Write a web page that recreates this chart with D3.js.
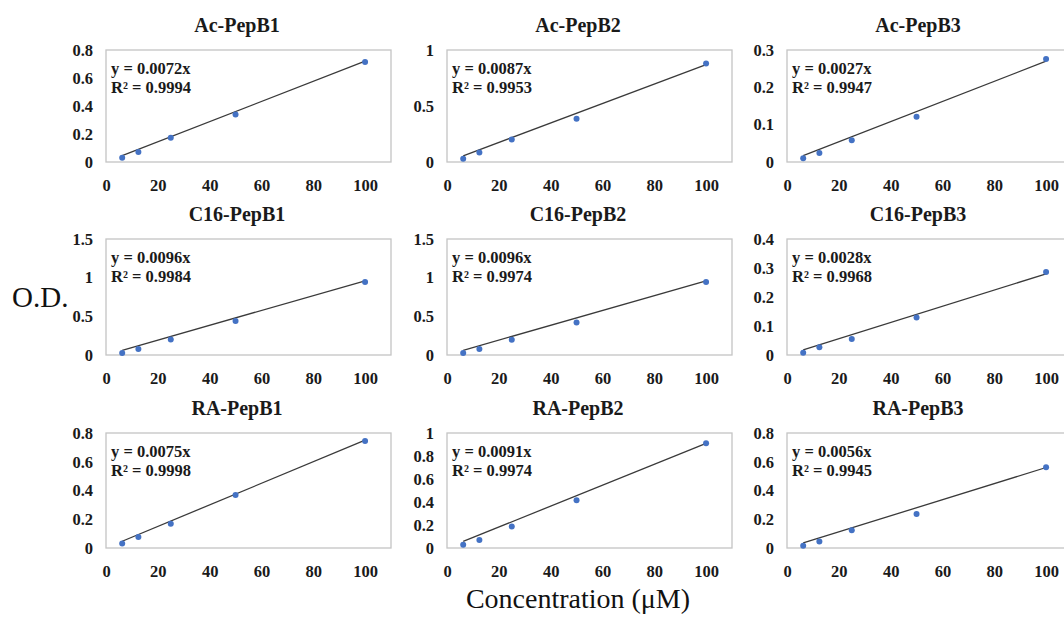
<!DOCTYPE html>
<html>
<head>
<meta charset="utf-8">
<script src="https://cdn.jsdelivr.net/npm/d3@7"></script>
<style>
  body { margin: 0; background: #fff; }
  svg { display: block; }
  .title { font-family: "Liberation Serif", serif; font-weight: bold; font-size: 20px; fill: #1a1a1a; }
  .eq { font-family: "Liberation Serif", serif; font-weight: bold; font-size: 16.5px; fill: #1a1a1a; }
  .label { font-family: "Liberation Serif", serif; fill: #111; }
</style>
</head>
<body>
<svg id="chart" width="1064" height="617"></svg>
<script>
// Concentrations (µM) on the x axis
const concentrations = [6.25, 12.5, 25, 50, 100];
const xTicks = [0, 20, 40, 60, 80, 100];

const panelNames = [
  'Ac-PepB1', 'Ac-PepB2', 'Ac-PepB3',
  'C16-PepB1', 'C16-PepB2', 'C16-PepB3',
  'RA-PepB1', 'RA-PepB2', 'RA-PepB3'
];

// O.D. readings per peptide
const acPepB1 = [0.031, 0.072, 0.174, 0.34, 0.715];
const acPepB2 = [0.03, 0.085, 0.2, 0.387, 0.88];
const acPepB3 = [0.01, 0.024, 0.058, 0.121, 0.276];
const c16PepB1 = [0.026, 0.078, 0.2, 0.44, 0.944];
const c16PepB2 = [0.026, 0.077, 0.197, 0.42, 0.944];
const c16PepB3 = [0.008, 0.027, 0.055, 0.129, 0.286];
const raPepB1 = [0.032, 0.077, 0.169, 0.369, 0.745];
const raPepB2 = [0.029, 0.07, 0.186, 0.416, 0.91];
const raPepB3 = [0.016, 0.046, 0.123, 0.237, 0.561];

// Trendline fits (through origin)
const slopes = [0.0072, 0.0087, 0.0027, 0.0096, 0.0096, 0.0028, 0.0075, 0.0091, 0.0056];
const rSquared = ['0.9994', '0.9953', '0.9947', '0.9984', '0.9974', '0.9968', '0.9998', '0.9974', '0.9945'];

// Y axis extents and tick steps
const yMaxes = [0.8, 1, 0.3, 1.5, 1.5, 0.4, 0.8, 1, 0.8];
const yTickSteps = [0.2, 0.5, 0.1, 0.5, 0.5, 0.1, 0.2, 0.2, 0.2];

const seriesValues = [acPepB1, acPepB2, acPepB3, c16PepB1, c16PepB2, c16PepB3, raPepB1, raPepB2, raPepB3];

const panels = panelNames.map((name, i) => ({
  name,
  values: seriesValues[i],
  slope: slopes[i],
  r2: rSquared[i],
  yMax: yMaxes[i],
  yStep: yTickSteps[i],
  col: i % 3,
  row: Math.floor(i / 3)
}));

// Layout
const colLeft = [106, 447, 787];
const rowTop = [50, 239, 433];
const rowBottom = [162, 355, 548];
const boxWidth = 285;
const xMax = 110;

const svg = d3.select('#chart');
const fmt = d => String(+d.toFixed(2));

// Excel-ish serif bold tick labels
function styleTicks(axisGroup) {
  axisGroup.select('.domain').remove();
  axisGroup.selectAll('text')
    .style('font-family', '"Liberation Serif", serif')
    .style('font-weight', 'bold')
    .style('font-size', '16.5px')
    .style('fill', '#1a1a1a');
}

panels.forEach(p => {
  const left = colLeft[p.col];
  const top = rowTop[p.row];
  const bottom = rowBottom[p.row];

  const xScale = d3.scaleLinear().domain([0, xMax]).range([left, left + boxWidth]);
  const yScale = d3.scaleLinear().domain([0, p.yMax]).range([bottom, top]);

  const g = svg.append('g').attr('class', 'panel');

  // Plot box
  g.append('rect')
    .attr('x', left)
    .attr('y', top)
    .attr('width', boxWidth)
    .attr('height', bottom - top)
    .attr('fill', 'none')
    .attr('stroke', '#c4c4c4')
    .attr('stroke-width', 1.3);

  // Title
  g.append('text')
    .attr('class', 'title')
    .attr('x', left + 131)
    .attr('y', top - 18)
    .attr('text-anchor', 'middle')
    .text(p.name);

  // Y axis
  const yTicks = d3.range(0, p.yMax + p.yStep / 2, p.yStep);
  const yAxis = g.append('g')
    .attr('class', 'axis')
    .attr('transform', `translate(${left - 13}, 0)`)
    .call(d3.axisLeft(yScale).tickValues(yTicks).tickSize(0).tickPadding(0).tickFormat(fmt));
  styleTicks(yAxis);

  // X axis
  const xAxis = g.append('g')
    .attr('class', 'axis')
    .attr('transform', `translate(0, ${bottom + 17})`)
    .call(d3.axisBottom(xScale).tickValues(xTicks).tickSize(0).tickPadding(0).tickFormat(d3.format('d')));
  styleTicks(xAxis);

  // Trendline y = slope * x over the data range
  const xExtent = d3.extent(concentrations);
  const line = d3.line()
    .x(d => xScale(d))
    .y(d => yScale(p.slope * d));

  g.append('path')
    .datum(xExtent)
    .attr('fill', 'none')
    .attr('stroke', '#3a3a3a')
    .attr('stroke-width', 1.3)
    .attr('d', line);

  // Points
  g.selectAll('.point')
    .data(p.values)
    .enter()
    .append('circle')
    .attr('class', 'point')
    .attr('cx', (d, i) => xScale(concentrations[i]))
    .attr('cy', d => yScale(d))
    .attr('r', 3)
    .attr('fill', '#4472c4');

  // Equation
  g.append('text')
    .attr('class', 'eq')
    .attr('x', left + 5)
    .attr('y', top + 24)
    .text(`y = ${p.slope.toFixed(4)}x`);

  g.append('text')
    .attr('class', 'eq')
    .attr('x', left + 5)
    .attr('y', top + 43)
    .text(`R\u00b2 = ${p.r2}`);
});

// Shared axis labels
svg.append('text')
  .attr('class', 'label')
  .attr('x', 12)
  .attr('y', 307)
  .attr('font-size', 29)
  .text('O.D.');

svg.append('text')
  .attr('class', 'label')
  .attr('x', 578)
  .attr('y', 608)
  .attr('text-anchor', 'middle')
  .attr('font-size', 28)
  .text('Concentration (\u03bcM)');
</script>
</body>
</html>
